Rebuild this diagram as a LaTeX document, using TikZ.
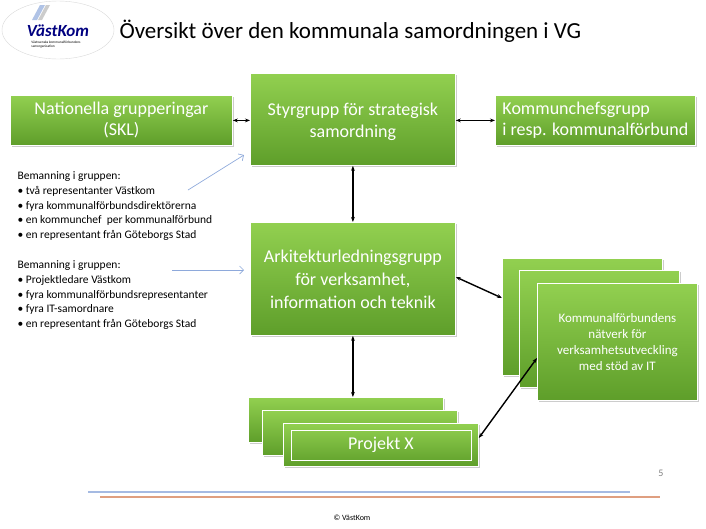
\documentclass[tikz,border=0pt]{standalone}
\usepackage{fontspec}
\setmainfont{Carlito}
\usetikzlibrary{shadows,arrows.meta,shapes.geometric}
\definecolor{gtop}{HTML}{92D050}
\definecolor{gbot}{HTML}{5E9E2A}
\definecolor{pblue}{HTML}{8EA9DB}
\tikzset{
 gbox/.style={draw=white,line width=0.8pt,top color=gtop,bottom color=gbot,text=white,align=center,anchor=north west,inner sep=2pt,drop shadow={shadow xshift=2pt,shadow yshift=-2pt,opacity=0.4}},
 dbl/.style={{Stealth[length=5pt]}-{Stealth[length=5pt]},line width=1.4pt,black},
 thin/.style={-{Straight Barb[length=4pt]},draw=pblue,line width=0.7pt},
 lst/.style={anchor=north west,align=left,font=\fontsize{11.5}{14.8}\selectfont}
}
\begin{document}
\begin{tikzpicture}[x=1pt,y=-1pt]
\useasboundingbox (0,0) rectangle (706,528);
% logo
\node[draw=gray!30,ellipse,minimum width=112,minimum height=58,inner sep=0] (logo) at (58,30) {};
\fill[pblue!70] (40,5) -- (45,5) -- (37,20) -- (32,20) -- cycle;
\fill[gray!40] (46,5) -- (50,5) -- (42,20) -- (38,20) -- cycle;
\node[font=\bfseries\itshape\fontsize{17}{17}\selectfont,text=blue!50!black] (lt) at (58,31) {VästKom};
\node[font=\fontsize{3.5}{4}\selectfont,align=left] (ls) at (56,45) {Västsvenska kommunalförbundens\\samorganisation};
\node[anchor=west,font=\fontsize{23}{26}\selectfont] (title) at (116,31) {Översikt över den kommunala samordningen i VG};
% main boxes
\node[gbox,minimum width=222,minimum height=50,font=\fontsize{18}{21}\selectfont] (nat) at (10,95) {Nationella grupperingar\\(SKL)};
\node[gbox,minimum width=205,minimum height=92,font=\fontsize{18}{22}\selectfont] (sty) at (250,73) {\\[-4pt]Styrgrupp för strategisk\\samordning};
\node[gbox,minimum width=200,minimum height=50,font=\fontsize{18}{21}\selectfont,align=left] (kom) at (495,95) {Kommunchefsgrupp\\i resp. kommunalförbund};
\node[gbox,minimum width=205,minimum height=113,font=\fontsize{18}{23}\selectfont] (ark) at (250,222) {Arkitekturledningsgrupp\\för verksamhet,\\information och teknik};
% right stack
\node[gbox,minimum width=160,minimum height=117] (n1) at (502,258) {};
\node[gbox,minimum width=160,minimum height=117] (n2) at (519,270) {};
\node[gbox,minimum width=160,minimum height=117,font=\fontsize{13}{16}\selectfont] (n3) at (537,283) {Kommunalförbundens\\nätverk för\\verksamhetsutveckling\\med stöd av IT};
% project stack
\node[gbox,minimum width=195,minimum height=45] (p1) at (248,397) {};
\node[gbox,minimum width=195,minimum height=45] (p2) at (262,410) {};
\node[gbox,minimum width=195,minimum height=43] (p3) at (283,423) {};
\node[draw=white,line width=0.6pt,minimum width=180,minimum height=30,text=white,font=\fontsize{18}{20}\selectfont] (px) at (p3.center) {Projekt X};
% arrows
\draw[dbl] (nat.east) -- (sty.west|-nat.east);
\draw[dbl] (sty.east|-kom.west) -- (kom.west);
\draw[dbl] (sty.south) -- (ark.north);
\draw[dbl] (ark.south) -- (p1.north-|ark.south);
\draw[dbl] (ark.east|-0,277) -- (n1.west|-0,298);
\draw[dbl] (p3.east|-0,438) -- (n3.west|-0,358);
% text lists
\node[lst] (l1) at (14,168) {Bemanning i gruppen:\\\textbullet\ två representanter Västkom\\\textbullet\ fyra kommunalförbundsdirektörerna\\\textbullet\ en kommunchef\ \ per kommunalförbund\\\textbullet\ en representant från Göteborgs Stad};
\node[lst] (l2) at (14,257) {Bemanning i gruppen:\\\textbullet\ Projektledare Västkom\\\textbullet\ fyra kommunalförbundsrepresentanter\\\textbullet\ fyra IT-samordnare\\\textbullet\ en representant från Göteborgs Stad};
\coordinate (c1) at (188,190); \coordinate (c2) at (172,270);
\draw[thin] (c1) -- (244,155);
\draw[thin] (c2) -- (244,270);
% footer
\draw[line width=2.5pt,draw=pblue!80] (88,492) -- (630,492);
\draw[line width=2.5pt,draw=brown!50!pink] (100,497) -- (660,497);
\node[font=\fontsize{10}{12}\selectfont,text=gray] (pg) at (661,473) {5};
\node[font=\fontsize{8}{10}\selectfont] (cp) at (352,518) {© VästKom};
\end{tikzpicture}
\end{document}
